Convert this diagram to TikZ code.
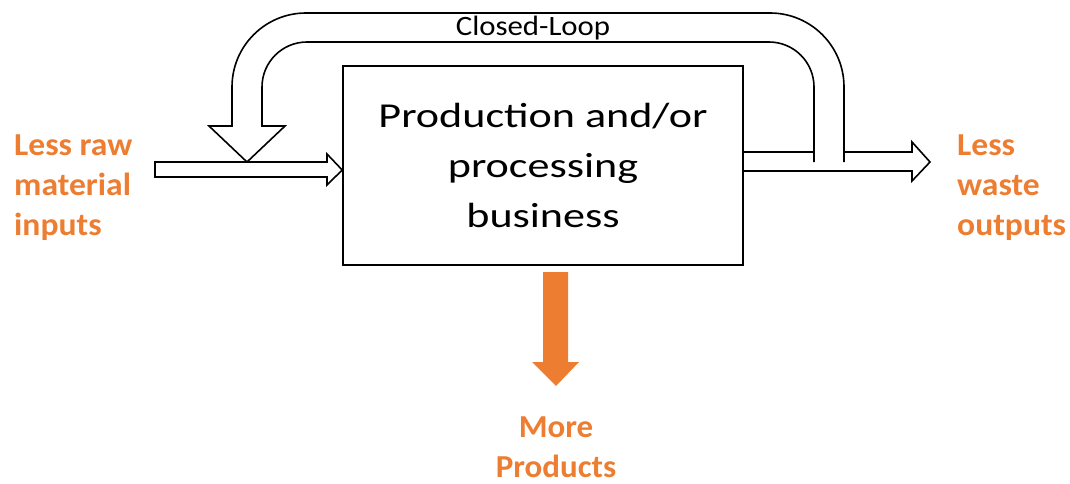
\documentclass[tikz,border=0pt]{standalone}
\usepackage{graphicx}
\usepackage{fontspec}
\setmainfont{Carlito}
\definecolor{orng}{HTML}{ED7D31}
\newcommand{\sxx}[2]{\scalebox{#1}[1]{#2}}
\begin{document}
\begin{tikzpicture}[x=1pt,y=1pt,
  ln/.style={line width=1.6pt, line join=miter},
  olabel/.style={text=orng, font=\fontsize{32}{40}\selectfont\bfseries, inner sep=0pt}]
\useasboundingbox (0,0) rectangle (1070,-484);
% main box
\node[draw, line width=1.6pt, minimum width=400, minimum height=199, inner sep=0pt,
      align=center, font=\fontsize{35}{50}\selectfont] (box) at (543,-165.5)
  {\sxx{1.26}{Production and/or}\\\sxx{1.26}{processing}\\\sxx{1.26}{business}};
% labels
\node[olabel, align=left, anchor=west] (in) at (14,-188)
  {\sxx{1.05}{Less raw}\\\sxx{1.05}{material}\\\sxx{1.05}{inputs}};
\node[olabel, align=left, anchor=west] (out) at (957,-188)
  {\sxx{1.05}{Less}\\\sxx{1.05}{waste}\\\sxx{1.05}{outputs}};
\node[olabel, align=center] (prod) at (556,-447)
  {\sxx{1.03}{More}\\\sxx{1.03}{Products}};
\node[font=\fontsize{28}{30}\selectfont, inner sep=0pt] (cl) at (533,-28) {\sxx{1.1}{Closed-Loop}};
% closed loop arrow
\draw[ln] (844,-162) -- (844,-87) arc[start angle=0, end angle=90, radius=74]
  -- (306,-13) arc[start angle=90, end angle=180, radius=74]
  -- (232,-126) -- (209,-126) -- (247,-162) -- (285,-126) -- (262,-126)
  -- (262,-87) arc[start angle=180, end angle=90, radius=45]
  -- (769,-42) arc[start angle=90, end angle=0, radius=45]
  -- (814,-162);
% input arrow
\draw[ln] (155,-162) -- (327,-162) -- (327,-154) -- (box.west |- 0,-170) -- (327,-185)
  -- (327,-177) -- (155,-177) -- cycle;
% output arrow
\draw[ln] (box.east |- 0,-152) -- (814,-152);
\draw[ln] (844,-152) -- (912,-152) -- (912,-142) -- (930,-162) -- (912,-181)
  -- (912,-171) -- (box.east |- 0,-171);
% products arrow
\fill[orng] (543,-272) -- (568,-272) -- (568,-362) -- (579,-362) -- (556,-386)
  -- (532,-362) -- (543,-362) -- cycle;
\end{tikzpicture}
\end{document}
